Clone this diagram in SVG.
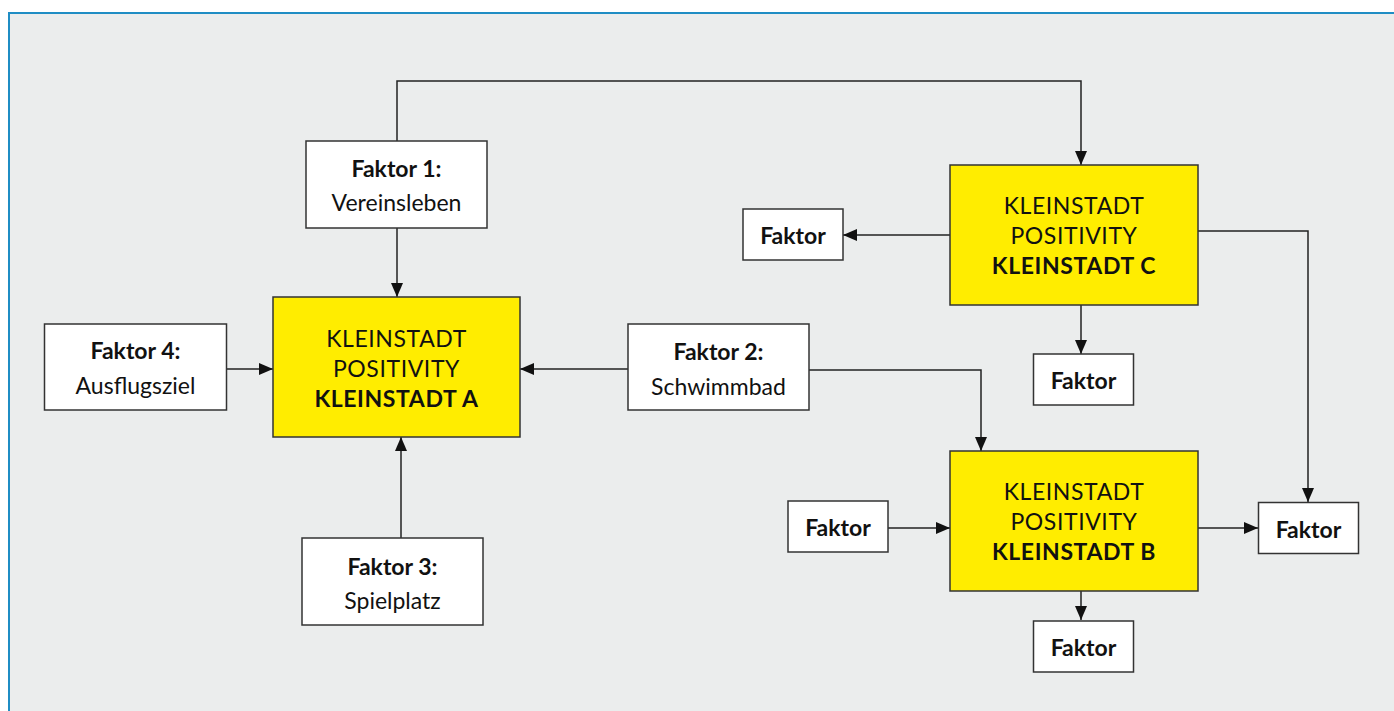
<svg xmlns="http://www.w3.org/2000/svg" width="1394" height="711" viewBox="0 0 1394 711">
<defs>
<marker id="arr" markerWidth="14" markerHeight="12" refX="14" refY="6" orient="auto" markerUnits="userSpaceOnUse">
<path d="M0,0 L14,6 L0,12 z" fill="#111"/>
</marker>
<style>
.bg{fill:#EBEDED}
.frame{stroke:#1F8DC4;stroke-width:2;fill:none}
.fac{fill:#fff;stroke:#333;stroke-width:1.5}
.city{fill:#FFED00;stroke:#333;stroke-width:1.5}
.conn{fill:none;stroke:#222;stroke-width:1.5;marker-end:url(#arr)}
text{font-family:Lato,"Open Sans","Liberation Sans",sans-serif;font-size:23px;fill:#111;text-anchor:middle}
.b{font-weight:bold}
.cap{letter-spacing:0.6px}
</style>
</defs>
<rect x="0" y="0" width="1394" height="711" fill="#fff"/>
<rect class="bg" x="9" y="13" width="1385" height="698"/>
<path class="frame" d="M9,711 V13 H1394"/>
<g id="connectors">
<path class="conn" d="M397,141 V81 H1081 V165"/>
<path class="conn" d="M397,228 V297"/>
<path class="conn" d="M226,369 H273"/>
<path class="conn" d="M628,369 H520"/>
<path class="conn" d="M401,538 V437"/>
<path class="conn" d="M809,370 H981 V451"/>
<path class="conn" d="M950,235 H843"/>
<path class="conn" d="M1081,305 V354"/>
<path class="conn" d="M1198,231 H1308 V502"/>
<path class="conn" d="M888,528 H950"/>
<path class="conn" d="M1198,528 H1258"/>
<path class="conn" d="M1081,591 V620"/>
</g>
<g id="faktor1">
<rect class="fac" x="306" y="141" width="181" height="87"/>
<text class="b" x="396.5" y="177">Faktor 1:</text>
<text x="396.5" y="211">Vereinsleben</text>
</g>
<g id="kleinstadtA">
<rect class="city" x="273" y="297" width="247" height="140"/>
<text class="cap" x="396.5" y="347">KLEINSTADT</text>
<text class="cap" x="396.5" y="377">POSITIVITY</text>
<text class="b cap" x="396.5" y="407">KLEINSTADT A</text>
</g>
<g id="faktor4">
<rect class="fac" x="44.5" y="324" width="182" height="86"/>
<text class="b" x="135.5" y="359">Faktor 4:</text>
<text x="135.5" y="394">Ausflugsziel</text>
</g>
<g id="faktor2">
<rect class="fac" x="628" y="324" width="181" height="86"/>
<text class="b" x="718.5" y="360">Faktor 2:</text>
<text x="718.5" y="395">Schwimmbad</text>
</g>
<g id="faktor3">
<rect class="fac" x="302" y="538" width="181" height="87"/>
<text class="b" x="392.5" y="575">Faktor 3:</text>
<text x="392.5" y="609">Spielplatz</text>
</g>
<g id="kleinstadtC">
<rect class="city" x="950" y="165" width="248" height="140"/>
<text class="cap" x="1074" y="214">KLEINSTADT</text>
<text class="cap" x="1074" y="244">POSITIVITY</text>
<text class="b cap" x="1074" y="274">KLEINSTADT C</text>
</g>
<g id="faktorC1">
<rect class="fac" x="743" y="209" width="100" height="51"/>
<text class="b" x="793" y="244">Faktor</text>
</g>
<g id="faktorC2">
<rect class="fac" x="1033.5" y="354" width="100" height="51"/>
<text class="b" x="1083.5" y="389">Faktor</text>
</g>
<g id="kleinstadtB">
<rect class="city" x="950" y="451" width="248" height="140"/>
<text class="cap" x="1074" y="500">KLEINSTADT</text>
<text class="cap" x="1074" y="530">POSITIVITY</text>
<text class="b cap" x="1074" y="560">KLEINSTADT B</text>
</g>
<g id="faktorB1">
<rect class="fac" x="788" y="501" width="100" height="51"/>
<text class="b" x="838" y="536">Faktor</text>
</g>
<g id="faktorB2">
<rect class="fac" x="1258.5" y="502.5" width="100" height="51"/>
<text class="b" x="1308.5" y="537.5">Faktor</text>
</g>
<g id="faktorB3">
<rect class="fac" x="1033.5" y="621" width="100" height="51"/>
<text class="b" x="1083.5" y="656">Faktor</text>
</g>
</svg>
